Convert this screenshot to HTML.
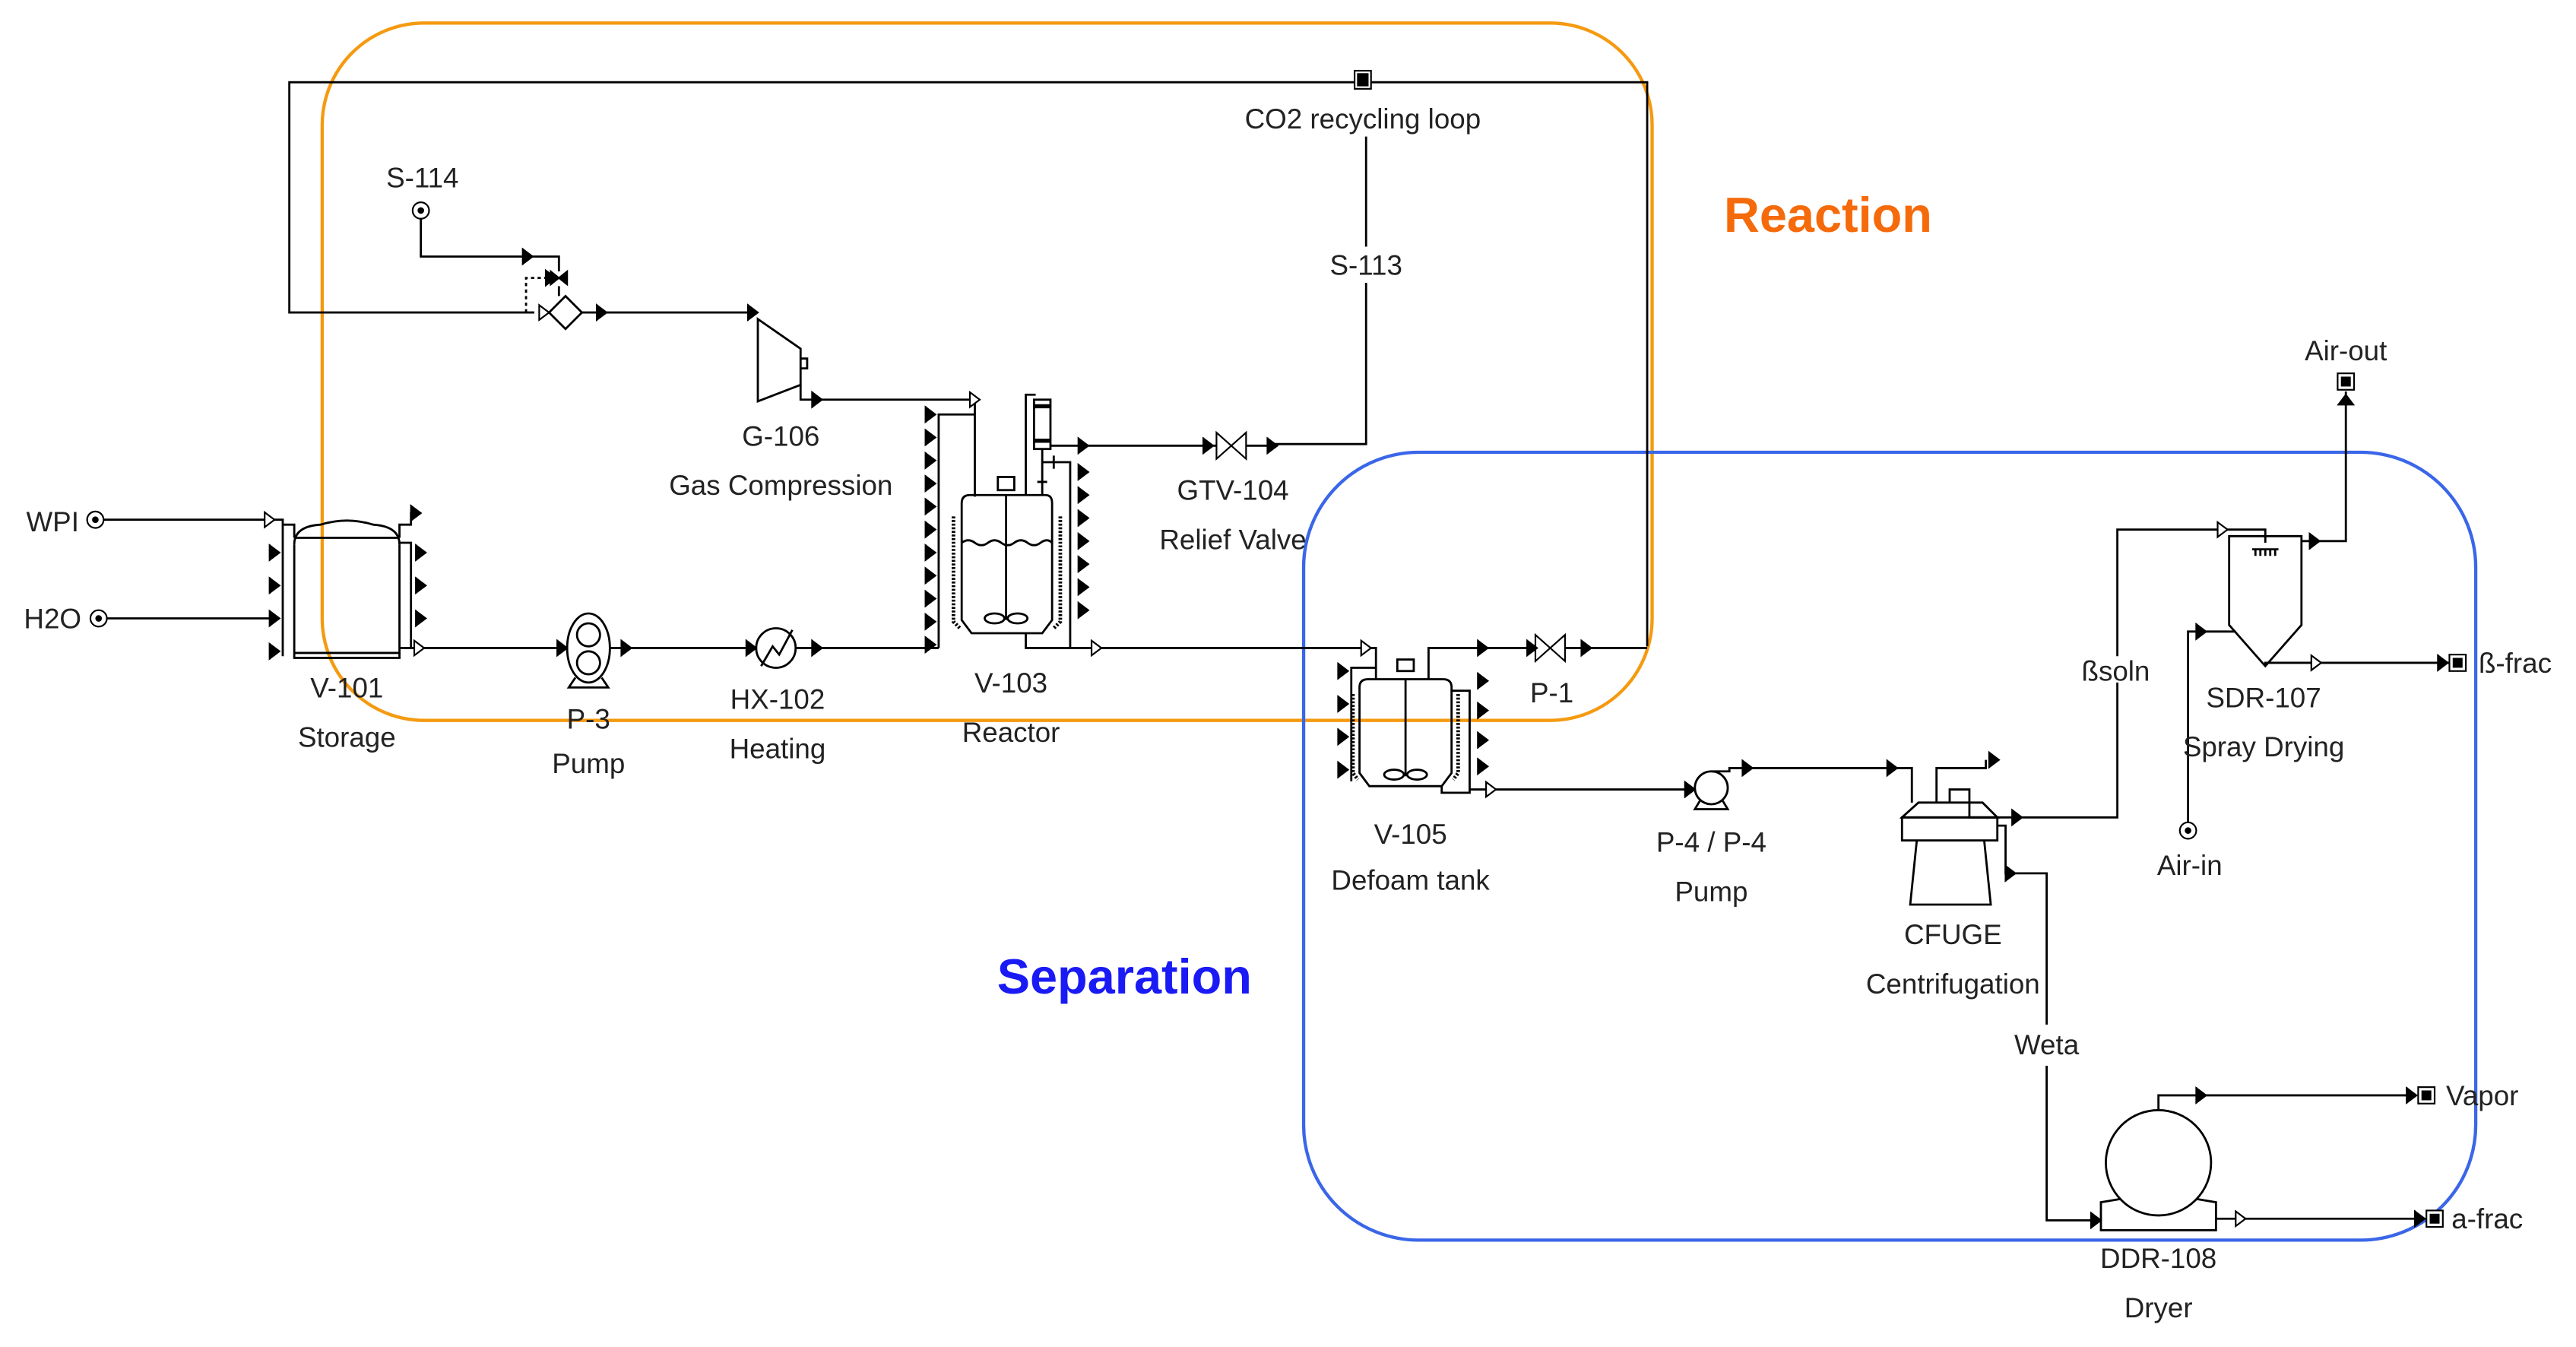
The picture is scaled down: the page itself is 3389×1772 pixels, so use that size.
<!DOCTYPE html>
<html><head><meta charset="utf-8"><style>
html,body{margin:0;padding:0;background:#fff;}
svg{display:block;}
text{font-family:"Liberation Sans",sans-serif;font-size:17px;fill:#222;text-anchor:middle;}
</style></head><body>
<svg width="3389" height="1772" viewBox="0 0 1567 819" preserveAspectRatio="none" xmlns="http://www.w3.org/2000/svg">
<defs>
<path id="a" d="M-6,-4.5 L0,0 L-6,4.5 Z M-6,-5 L-6,5" fill="#000" stroke="#000" stroke-width="1"/>
<path id="o" d="M-6,-4.5 L0,0 L-6,4.5 Z" fill="#fff" stroke="#000" stroke-width="1"/>
<g id="src"><circle r="5" fill="#fff" stroke="#000" stroke-width="1"/><circle r="2" fill="#000"/></g>
<g id="snk"><rect x="-5" y="-5" width="10" height="10" fill="#fff" stroke="#000" stroke-width="1"/><rect x="-3" y="-3" width="6" height="6" fill="#000"/></g>
<g id="valve"><path d="M-9,-8 L9,8 L9,-8 L-9,8 Z" fill="#fff" stroke="#000" stroke-width="1"/></g>
</defs>

<rect x="196" y="14" width="809" height="424" rx="62" fill="none" stroke="#f59a10" stroke-width="2"/>
<rect x="793" y="275" width="713" height="479" rx="70" fill="none" stroke="#3a66e8" stroke-width="2"/>

<text x="1112" y="141" style="font-size:30px;font-weight:bold;fill:#f56a0a">Reaction</text>
<text x="684" y="604" style="font-size:30px;font-weight:bold;fill:#1a1af5">Separation</text>

<g fill="none" stroke="#000" stroke-width="1.3">
<path d="M325,190 L176,190 L176,50 L1002,50 L1002,393"/>
<path d="M831,83 L831,150 M831,172 L831,270 L773,270"/>
<path d="M256,133 L256,156 L340,156 L340,165"/>
<path d="M320,190 L320,169 L333,169" stroke-dasharray="2,2"/>
<path d="M340,174 L340,180"/>
<path d="M334,190 L344,180 L354,190 L344,200 Z"/>
<path d="M354,190 L461,190"/>
<path d="M461,194 L487,212 L487,234 L461,244 Z"/>
<path d="M487,218 L491,218 L491,224 L487,224"/>
<path d="M487,234 L487,243 L593,243 L593,302"/>
<path d="M593,252 L571,252 L571,394"/>
<path d="M63,316 L172,316 L172,399"/>
<path d="M64,376 L170,376"/>
<path d="M179,331 L179,400 L243,400 L243,331"/>
<path d="M179,331 Q179,320 195,319 Q211,314 227,319 Q243,320 243,331"/>
<path d="M179,327 L243,327 M179,397 L243,397"/>
<path d="M172,319 L179,319 L179,327 M243,327 L243,319 L250,319 L250,312 L255,312"/>
<path d="M243,330 L250,330 L250,394"/>
<path d="M243,394 L345,394"/>
<ellipse cx="358" cy="394" rx="13" ry="21"/>
<circle cx="358" cy="386" r="7"/><circle cx="358" cy="403" r="7"/>
<path d="M350,412 L346,418 L370,418 L366,412"/>
<path d="M371,394 L460,394"/>
<circle cx="472" cy="394" r="12"/>
<path d="M463,405 L470,393 L474,398 L482,383"/>
<path d="M484,394 L571,394"/>
<path d="M585,306 Q585,301 590,301 L636,301 Q640,301 640,306 L640,377 L634,385 L591,385 L585,377 Z"/>
<path d="M580,314 L580,378 L584,382 M645,314 L645,378 L641,382" stroke-width="2.2" stroke-dasharray="1.2,1"/>
<path d="M585,330 Q589,327 593,330 Q597,333 601,330 Q605,327 609,330 Q613,333 617,330 Q621,327 625,330 Q629,333 633,330 Q637,327 640,330"/>
<path d="M612,301 L612,377"/>
<rect x="607" y="290" width="10" height="8"/>
<ellipse cx="605" cy="376" rx="6" ry="3"/><ellipse cx="619" cy="376" rx="6" ry="3"/>
<path d="M624,301 L624,240 L630,240"/>
<rect x="629" y="243" width="10" height="30"/>
<path d="M629,247 L639,247 M629,268 L639,268" stroke-width="2.5"/>
<path d="M634,273 L634,301 M631,293 L637,293"/>
<path d="M639,271 L741,271"/>
<path d="M758,271 L773,271"/>
<path d="M634,281 L651,281 L651,394 M641,277 L641,285"/>
<path d="M624,385 L624,394 L837,394 L837,413"/>
<path d="M837,406 L822,406 L822,475"/>
<path d="M827,418 Q827,413 832,413 L878,413 Q883,413 883,418 L883,470 L877,478 L833,478 L827,470 Z"/>
<path d="M823,422 L823,470 L826,474 M887,422 L887,470 L884,474" stroke-width="2.2" stroke-dasharray="1.2,1"/>
<path d="M855,413 L855,472"/>
<rect x="850" y="401" width="10" height="7"/>
<ellipse cx="848" cy="471" rx="6" ry="3"/><ellipse cx="862" cy="471" rx="6" ry="3"/>
<path d="M869,413 L869,394 L935,394 M951,394 L1002,394"/>
<path d="M883,420 L894,420 L894,482 L877,482 L877,478"/>
<path d="M894,480 L1031,480"/>
<circle cx="1041" cy="479" r="10"/>
<path d="M1034,487 L1031,492 L1051,492 L1048,487"/>
<path d="M1041,469 L1052,469 L1052,467 L1163,467 L1163,488"/>
<path d="M1157,497 L1167,488 L1206,488 L1215,497 Z"/>
<rect x="1157" y="497" width="58" height="14"/>
<path d="M1166,511 L1162,550 L1211,550 L1207,511"/>
<path d="M1178,488 L1178,467 L1208,467 L1208,462"/>
<path d="M1186,488 L1186,480 L1198,480 L1198,497 L1288,497 L1288,415 M1288,399 L1288,322 L1378,322 L1378,330"/>
<path d="M1215,502 L1220,502 L1220,531 L1245,531 L1245,623 M1245,648 L1245,742 L1278,742"/>
<path d="M1356,326 L1400,326 L1400,380 L1378,405 L1356,380 Z"/>
<path d="M1370,334 L1386,334 M1372,334 L1372,338 M1375,334 L1375,338 M1378,334 L1378,338 M1381,334 L1381,338 M1384,334 L1384,338"/>
<path d="M1400,329 L1427,329 L1427,238"/>
<path d="M1331,500 L1331,384 L1360,384"/>
<path d="M1378,405 L1378,403 L1490,403"/>
<circle cx="1313" cy="707" r="32"/>
<path d="M1290,729 L1278,731 L1278,748 L1348,748 L1348,731 L1336,729"/>
<path d="M1313,675 L1313,666 L1470,666"/>
<path d="M1348,741 L1475,741"/>
</g>

<use href="#valve" x="749" y="271"/>
<use href="#valve" x="943" y="394"/>
<g fill="#fff" stroke="#000" stroke-width="1"><path d="M335,165 L345,173 L345,165 L335,173 Z" fill="#000"/><rect x="824" y="43" width="10" height="11"/><rect x="826" y="45" width="6" height="7" fill="#000"/></g>

<g>
<use href="#a" x="324" y="156"/><use href="#a" x="338" y="169"/>
<use href="#o" x="334" y="190"/><use href="#a" x="369" y="190"/><use href="#a" x="461" y="190"/>
<use href="#a" x="500" y="243"/><use href="#o" x="596" y="243"/>
<use href="#o" x="167" y="316"/><use href="#a" x="256" y="312"/>
<use href="#o" x="258" y="394"/><use href="#a" x="345" y="394"/><use href="#a" x="384" y="394"/>
<use href="#a" x="460" y="394"/><use href="#a" x="500" y="394"/>
<use href="#a" x="662" y="271"/><use href="#a" x="738" y="271"/><use href="#a" x="777" y="271"/>
<use href="#o" x="670" y="394"/><use href="#o" x="834" y="394"/><use href="#a" x="905" y="394"/>
<use href="#a" x="935" y="394"/><use href="#a" x="968" y="394"/>
<use href="#o" x="910" y="480"/><use href="#a" x="1031" y="480"/>
<use href="#a" x="1066" y="467"/><use href="#a" x="1154" y="467"/><use href="#a" x="1216" y="462"/>
<use href="#a" x="1230" y="497"/><use href="#o" x="1355" y="322"/><use href="#a" x="1226" y="531"/>
<use href="#a" x="1278" y="742"/><use href="#a" x="1411" y="329"/><use href="#a" x="1342" y="384"/>
<use href="#o" x="1412" y="403"/><use href="#a" x="1342" y="666"/><use href="#o" x="1366" y="741"/>
<use href="#a" x="1489" y="403"/><use href="#a" x="1470" y="666"/><use href="#a" x="1475" y="741"/>
<use href="#a" x="0" y="0" transform="translate(1427,240) rotate(-90)"/>
<use href="#a" x="170" y="336"/><use href="#a" x="170" y="356"/><use href="#a" x="170" y="376"/><use href="#a" x="170" y="396"/>
<use href="#a" x="259" y="336"/><use href="#a" x="259" y="356"/><use href="#a" x="259" y="376"/>
<use href="#a" x="569" y="252"/><use href="#a" x="569" y="266"/><use href="#a" x="569" y="280"/><use href="#a" x="569" y="294"/>
<use href="#a" x="569" y="308"/><use href="#a" x="569" y="322"/><use href="#a" x="569" y="336"/><use href="#a" x="569" y="350"/>
<use href="#a" x="569" y="364"/><use href="#a" x="569" y="378"/><use href="#a" x="569" y="392"/>
<use href="#a" x="662" y="287"/><use href="#a" x="662" y="301"/><use href="#a" x="662" y="315"/><use href="#a" x="662" y="329"/>
<use href="#a" x="662" y="343"/><use href="#a" x="662" y="357"/><use href="#a" x="662" y="371"/>
<use href="#a" x="820" y="408"/><use href="#a" x="820" y="428"/><use href="#a" x="820" y="448"/><use href="#a" x="820" y="468"/>
<use href="#a" x="905" y="414"/><use href="#a" x="905" y="432"/><use href="#a" x="905" y="450"/><use href="#a" x="905" y="466"/>
</g>

<use href="#src" x="58" y="316"/><use href="#src" x="60" y="376"/>
<use href="#src" x="256" y="128"/><use href="#src" x="1331" y="505"/>
<use href="#snk" x="1427" y="232"/><use href="#snk" x="1495" y="403"/>
<use href="#snk" x="1476" y="666"/><use href="#snk" x="1481" y="741"/>

<text x="829" y="78">CO2 recycling loop</text>
<text x="831" y="167">S-113</text>
<text x="257" y="114">S-114</text>
<text x="32" y="323">WPI</text>
<text x="32" y="382">H2O</text>
<text x="475" y="271">G-106</text>
<text x="475" y="301">Gas Compression</text>
<text x="750" y="304">GTV-104</text>
<text x="750" y="334">Relief Valve</text>
<text x="211" y="424">V-101</text>
<text x="211" y="454">Storage</text>
<text x="358" y="443">P-3</text>
<text x="358" y="470">Pump</text>
<text x="473" y="431">HX-102</text>
<text x="473" y="461">Heating</text>
<text x="615" y="421">V-103</text>
<text x="615" y="451">Reactor</text>
<text x="944" y="427">P-1</text>
<text x="858" y="513">V-105</text>
<text x="858" y="541">Defoam tank</text>
<text x="1041" y="518">P-4 / P-4</text>
<text x="1041" y="548">Pump</text>
<text x="1188" y="574">CFUGE</text>
<text x="1188" y="604">Centrifugation</text>
<text x="1287" y="414">ßsoln</text>
<text x="1245" y="641">Weta</text>
<text x="1377" y="430">SDR-107</text>
<text x="1377" y="460">Spray Drying</text>
<text x="1332" y="532">Air-in</text>
<text x="1427" y="219">Air-out</text>
<text x="1530" y="409">ß-frac</text>
<text x="1510" y="672">Vapor</text>
<text x="1513" y="747">a-frac</text>
<text x="1313" y="771">DDR-108</text>
<text x="1313" y="801">Dryer</text>
</svg>
</body></html>
